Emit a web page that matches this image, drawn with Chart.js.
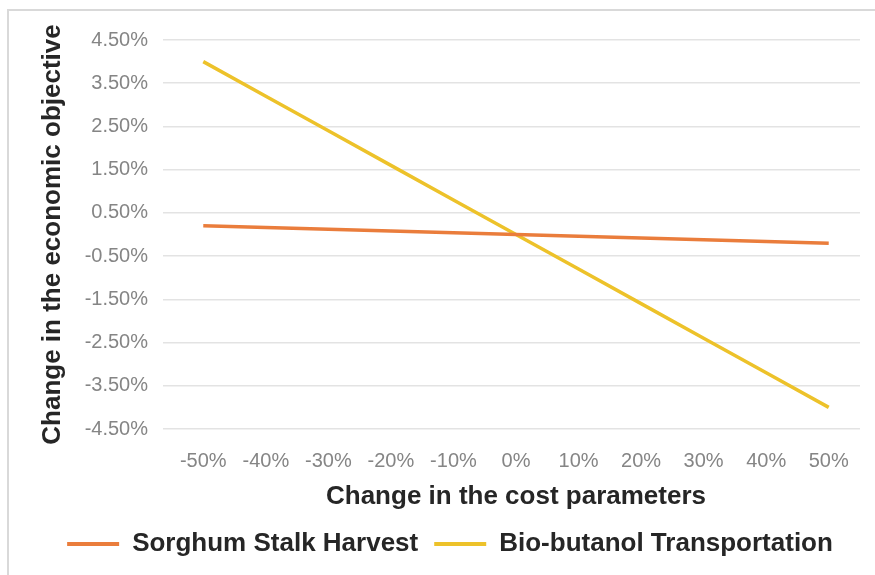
<!DOCTYPE html>
<html>
<head>
<meta charset="utf-8">
<script src="https://cdn.jsdelivr.net/npm/chart.js@4/dist/chart.umd.min.js"></script>
<style>
  html, body { margin: 0; padding: 0; background: #ffffff; }
  #wrap { position: relative; width: 875px; height: 575px; overflow: hidden; }
  #frame { position: absolute; left: 7px; top: 9px; width: 880px; height: 580px;
           border: 2px solid #d9d9d9; box-sizing: border-box; }
  canvas { position: absolute; left: 0; top: 0; filter: blur(0.5px); }
</style>
</head>
<body>
<div id="wrap">
  <div id="frame"></div>
  <canvas id="chart" width="875" height="575"></canvas>
</div>
<script>
// Sensitivity of the economic objective to cost parameter changes
const categories = ['-50%', '-40%', '-30%', '-20%', '-10%', '0%', '10%', '20%', '30%', '40%', '50%'];
const sorghumStalkHarvest = [0.20, 0.16, 0.12, 0.08, 0.04, 0.00, -0.04, -0.08, -0.12, -0.16, -0.20];
const bioButanolTransportation = [4.00, 3.20, 2.40, 1.60, 0.80, 0.00, -0.80, -1.60, -2.40, -3.20, -4.00];
const yTickValues = [4.5, 3.5, 2.5, 1.5, 0.5, -0.5, -1.5, -2.5, -3.5, -4.5];

const seriesNames = ['Sorghum Stalk Harvest', 'Bio-butanol Transportation'];
const seriesColors = ['#ea7d3c', '#edc22a'];

const titleFont = { family: '"Liberation Sans", Arial, sans-serif', size: 26, weight: 'bold', lineHeight: 1 };
const tickFont = { family: '"Liberation Sans", Arial, sans-serif', size: 20 };

new Chart(document.getElementById('chart'), {
  type: 'line',
  data: {
    labels: categories,
    datasets: [
      { label: seriesNames[0], data: sorghumStalkHarvest, borderColor: seriesColors[0],
        backgroundColor: seriesColors[0], borderWidth: 3.5, pointRadius: 0, tension: 0 },
      { label: seriesNames[1], data: bioButanolTransportation, borderColor: seriesColors[1],
        backgroundColor: seriesColors[1], borderWidth: 3.5, pointRadius: 0, tension: 0 }
    ]
  },
  options: {
    responsive: false,
    animation: false,
    layout: { padding: { left: 40, right: 15, top: 40, bottom: 8 } },
    plugins: {
      tooltip: { enabled: false },
      legend: {
        position: 'bottom',
        labels: {
          font: titleFont,
          color: '#262626',
          boxWidth: 52,
          boxHeight: 4,
          padding: 16,
          generateLabels(chart) {
            return chart.data.datasets.map((ds, i) => ({
              text: ds.label, fillStyle: ds.borderColor, strokeStyle: ds.borderColor,
              lineWidth: 0, hidden: false, datasetIndex: i, fontColor: '#262626'
            }));
          }
        }
      }
    },
    scales: {
      x: {
        offset: true,
        grid: { display: false, drawTicks: false },
        border: { display: false },
        ticks: { font: tickFont, color: '#858585', padding: 20, maxRotation: 0, autoSkip: false },
        title: { display: true, text: 'Change in the cost parameters', font: titleFont,
                 color: '#262626', padding: { top: 0, bottom: 5 } },
        afterFit(scale) { scale.height = 86; }
      },
      y: {
        min: -4.5,
        max: 4.5,
        afterBuildTicks(scale) { scale.ticks = yTickValues.map(v => ({ value: v })); },
        grid: { color: '#e3e3e3', lineWidth: 1.5, drawTicks: true, tickLength: 9 },
        border: { display: false },
        ticks: {
          font: tickFont, color: '#858585', padding: 15,
          callback: v => v.toFixed(2) + '%'
        },
        title: { display: true, text: 'Change in the economic objective', font: titleFont,
                 color: '#262626', padding: { top: 0, bottom: 0 } },
        afterFit(scale) { scale.width = 132; }
      }
    }
  }
});
</script>
</body>
</html>
